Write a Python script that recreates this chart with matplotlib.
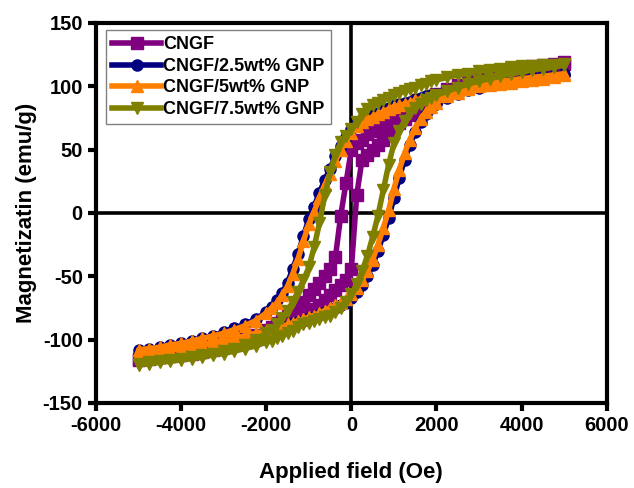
import matplotlib
matplotlib.use("Agg")
import matplotlib.pyplot as plt

plt.rcParams['font.family'] = ['Liberation Sans', 'DejaVu Sans']
plt.rcParams['font.weight'] = 'bold'
plt.rcParams['axes.unicode_minus'] = False

# applied field grid (Oe), descending sweep order
FIELD = [5000, 4750, 4500, 4250, 4000, 3750, 3500, 3250, 3000, 2750, 2500, 2250,
         2000, 1875, 1750, 1625, 1500, 1375, 1250, 1125, 1000, 875, 750, 625, 500,
         375, 250, 125, 0, -125, -250, -375, -500, -625, -750, -875, -1000, -1125,
         -1250, -1375, -1500, -1625, -1750, -1875, -2000, -2250, -2500, -2750,
         -3000, -3250, -3500, -3750, -4000, -4250, -4500, -4750, -5000]
FIELD_UP = FIELD[::-1]

# magnetization (emu/g): *_down follows FIELD, *_up follows FIELD_UP
cngf_down = [119, 118, 117, 116, 114, 113, 111, 109, 107, 104, 101, 98,
             94, 92, 90, 88, 86, 84, 81, 79, 77, 74, 71, 68, 65, 62, 58, 55, 50,
             24, -2, -35, -44, -50, -55, -60, -65, -70, -74, -78, -81, -84, -87,
             -90, -92,
             -96, -99, -102, -104, -106, -108, -110, -111, -112, -113, -114, -115]
cngf_up = [-116, -115, -114, -113, -112, -111, -110, -108, -106, -104, -102, -99,
           -96, -95, -93, -91, -89, -87, -84, -82, -79, -76, -73, -69, -65, -61,
           -57, -53, -44, 14, 42, 46, 50, 54, 58, 62, 67, 71, 74, 77, 80, 83, 86,
           89, 91,
           95, 99, 102, 105, 108, 110, 112, 113, 115, 116, 117, 118]

gnp25_down = [110, 109, 108, 107, 106, 105, 104, 103, 101, 100, 98, 96,
              94, 93, 92, 91, 90, 88, 87, 86, 85, 83, 81, 79, 77, 75, 73, 71, 66,
              60, 53, 45, 35, 26, 16, 5, -5, -18, -32, -44, -55, -63, -69, -74,
              -78,
              -84, -88, -91, -94, -97, -99, -101, -103, -104, -106, -107, -108]
gnp25_up = [-111, -110, -109, -108, -107, -106, -105, -103, -102, -100, -98, -96,
            -94, -93, -92, -90, -89, -87, -86, -85, -83, -82, -80, -78, -77, -75,
            -73, -71, -67, -62, -57, -50, -41, -30, -17, -4, 12, 28, 42, 54, 64,
            72, 78, 83, 86,
            91, 94, 97, 99, 101, 102, 103, 104, 105, 106, 107, 109]

gnp5_down = [110, 109, 108, 107, 106, 105, 104, 102, 101, 99, 97, 95,
             93, 92, 91, 90, 89, 87, 86, 85, 84, 82, 80, 78, 76, 74, 72, 69, 63,
             57, 50, 41, 31, 22, 12, 1, -9, -22, -36, -48, -58, -65, -71, -75, -79,
             -85, -89, -92, -95, -97, -99, -101, -103, -104, -106, -107, -108]
gnp5_up = [-111, -110, -109, -108, -107, -106, -104, -103, -101, -99, -97, -95,
           -93, -92, -91, -90, -88, -87, -85, -84, -82, -81, -79, -77, -75, -73,
           -71, -68, -64, -59, -53, -46, -37, -25, -12, 2, 19, 34, 47, 58, 67, 74,
           80, 84, 87,
           92, 95, 98, 100, 101, 102, 103, 104, 105, 106, 107, 109]

gnp75_down = [118, 117, 117, 116, 116, 115, 114, 113, 112, 110, 109, 107,
              105, 104, 102, 101, 99, 98, 96, 95, 93, 91, 89, 87, 85, 82, 78, 72,
              66, 61, 56, 46, 32, 14, -8, -27, -43, -53, -62, -70, -77, -83, -88,
              -92, -95,
              -100, -104, -107, -109, -111, -112, -114, -115, -116, -117, -118, -119]
gnp75_up = [-120, -119, -118, -117, -116, -115, -114, -112, -111, -109, -107, -105,
            -102, -101, -99, -97, -95, -93, -90, -88, -87, -85, -84, -82, -81, -78,
            -75, -70, -64, -56, -46, -34, -19, -2, 18, 38, 55, 65, 73, 79, 83, 86,
            89, 91, 93,
            96, 99, 102, 104, 106, 108, 110, 111, 113, 114, 115, 117]

series = [
    ("CNGF", cngf_down, cngf_up, "#800080", "s"),
    ("CNGF/2.5wt% GNP", gnp25_down, gnp25_up, "#000080", "o"),
    ("CNGF/5wt% GNP", gnp5_down, gnp5_up, "#FF8000", "^"),
    ("CNGF/7.5wt% GNP", gnp75_down, gnp75_up, "#808000", "v"),
]

fig = plt.figure(figsize=(6.34, 4.88), dpi=100)
ax = fig.add_axes([0.1514, 0.1742, 0.8056, 0.7787])

ax.axhline(0, color="black", lw=2.6, zorder=1)
ax.axvline(0, color="black", lw=2.6, zorder=1)

for i, (name, down, up, col, mk) in enumerate(series):
    h = FIELD + FIELD_UP
    m = down + up
    ax.plot(h, m, color=col, lw=4, marker=mk, ms=8, mec=col, mfc=col,
            label=name, zorder=2 + i)

ax.set_xlim(-6000, 6000)
ax.set_ylim(-150, 150)
ax.set_xticks(range(-6000, 6001, 2000))
ax.set_yticks(range(-150, 151, 50))

for s in ax.spines.values():
    s.set_linewidth(3)
ax.tick_params(width=3, length=6, labelsize=14.5, direction="out")
for lab in ax.get_xticklabels() + ax.get_yticklabels():
    lab.set_fontweight("bold")

ax.set_xlabel("Applied field (Oe)", fontsize=16, fontweight="bold", labelpad=19)
ax.set_ylabel("Magnetizatin (emu/g)", fontsize=16, fontweight="bold", labelpad=4)

leg = ax.legend(loc="upper left", bbox_to_anchor=(0.002, 1.005), fontsize=13,
                handlelength=2.7, handletextpad=0.1, labelspacing=0.25,
                borderpad=0.35, fancybox=False, edgecolor="#808080", framealpha=1)
leg.get_frame().set_linewidth(1)
for t in leg.get_texts():
    t.set_fontweight("bold")

fig.savefig("out.png", dpi=100)
